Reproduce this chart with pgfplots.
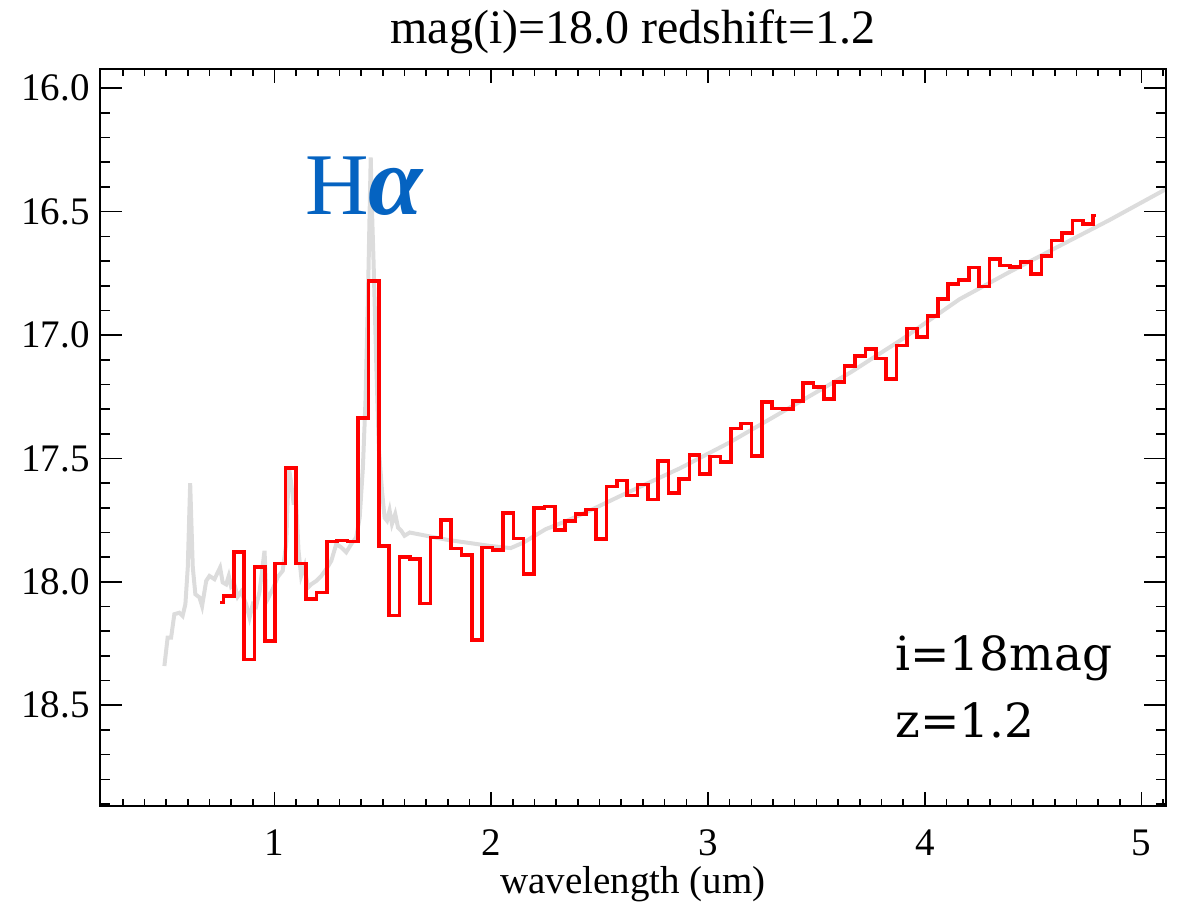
\documentclass[border=0pt]{standalone}
\usepackage{fontspec}
\setmainfont{Liberation Serif}
\newfontfamily\labelfont{DejaVu Serif}
\usepackage{pgfplots}
\pgfplotsset{compat=1.18}
\definecolor{specgray}{RGB}{220,220,220}
\definecolor{habblue}{RGB}{5,99,193}

\pgfplotsset{
  specbox/.style={
    at={(50pt,49pt)}, anchor=south west,
    scale only axis, width=533pt, height=368.5pt,
    xmin=0.195, xmax=5.113, ymin=15.922, ymax=18.908, y dir=reverse,
    tick align=inside,
    axis line style={line width=0.8pt},
    tick style={line width=0.8pt, black},
    minor tick style={line width=0.8pt, black},
    tick label style={font=\fontsize{19.5}{20}\selectfont},
  }
}

\begin{document}
\begin{tikzpicture}
\useasboundingbox (0,0) rectangle (590pt,452pt);

% main axis: data, x ticks (short), title, x label
\begin{axis}[
  specbox,
  xtick={1,2,3,4,5}, xticklabels={1,2,3,4,5},
  minor xtick={0.3,0.4,...,5.1},
  ytick=\empty,
  xtick pos=both, xticklabel pos=lower,
  major tick length=7pt, minor tick length=3.5pt,
  xticklabel style={anchor=base, yshift=-24.5pt},
  xlabel={wavelength (um)},
  xlabel style={at={(axis description cs:0.5,0)}, anchor=base, yshift=-43.5pt,
    font=\fontsize{19.5}{20}\selectfont},
  title={mag(i)=18.0 redshift=1.2},
  title style={at={(axis description cs:0.5,1)}, anchor=base, yshift=7pt,
    font=\fontsize{24}{25}\selectfont},
  clip mode=individual,
]
% model spectrum
\addplot[specgray, line width=2pt, mark=none] coordinates {
(0.492,18.341)(0.507,18.226)(0.523,18.226)(0.538,18.131)(0.561,18.125)
(0.576,18.138)(0.589,18.090)(0.600,17.940)(0.611,17.600)(0.623,17.940)
(0.635,18.050)(0.654,18.063)(0.666,18.098)(0.685,17.996)(0.700,17.976)
(0.723,17.989)(0.738,17.962)(0.749,17.942)(0.761,18.002)(0.777,18.010)
(0.789,17.976)(0.800,18.020)(0.815,18.010)(0.830,18.060)(0.846,18.040)
(0.869,18.090)(0.885,18.145)(0.900,18.090)(0.915,18.100)(0.931,18.040)
(0.954,17.874)(0.964,18.077)(0.980,18.050)(0.995,18.023)(1.015,17.980)
(1.038,17.955)(1.054,17.847)(1.066,17.535)(1.077,17.600)(1.088,17.680)
(1.100,17.680)(1.111,17.874)(1.123,17.976)(1.139,17.935)(1.154,18.023)
(1.169,18.010)(1.193,17.996)(1.216,17.976)(1.239,17.948)(1.262,17.915)
(1.285,17.847)(1.308,17.860)(1.331,17.880)(1.354,17.847)(1.377,17.820)
(1.393,17.740)(1.408,17.535)(1.420,17.264)(1.431,16.858)(1.439,16.500)
(1.444,16.280)(1.450,16.500)(1.457,16.700)(1.470,17.129)(1.482,17.467)
(1.496,17.630)(1.508,17.740)(1.519,17.752)(1.531,17.710)(1.542,17.765)
(1.557,17.725)(1.570,17.780)(1.585,17.793)(1.600,17.813)(1.624,17.800)
(1.80,17.830)(2.00,17.855)(2.09,17.863)(2.15,17.840)(2.25,17.787)
(2.35,17.752)(2.45,17.713)(2.60,17.650)(2.87,17.540)(3.10,17.435)
(3.33,17.318)(3.66,17.150)(3.89,17.020)(4.16,16.855)(4.39,16.745)
(4.63,16.635)(4.85,16.535)(5.11,16.410)
};
% binned spectrum (left bin edge, value)
\addplot[const plot, red, line width=1.8pt, mark=none] coordinates {
(0.749,18.084)
(0.764,18.057)(0.812,17.878)(0.860,18.314)(0.907,17.939)(0.955,18.240)
(1.003,17.925)(1.051,17.539)(1.098,17.925)(1.146,18.070)(1.194,18.043)
(1.242,17.836)(1.289,17.833)(1.337,17.837)(1.385,17.336)(1.433,16.780)
(1.481,17.854)(1.528,18.136)(1.576,17.898)(1.624,17.908)(1.672,18.087)
(1.719,17.820)(1.767,17.749)(1.815,17.864)(1.863,17.890)(1.910,18.236)
(1.958,17.860)(2.006,17.870)(2.054,17.720)(2.102,17.824)(2.149,17.968)
(2.197,17.700)(2.245,17.695)(2.293,17.789)(2.340,17.754)(2.388,17.724)
(2.436,17.706)(2.484,17.826)(2.531,17.613)(2.579,17.589)(2.627,17.650)
(2.675,17.606)(2.723,17.667)(2.770,17.511)(2.818,17.640)(2.866,17.583)
(2.914,17.485)(2.961,17.562)(3.009,17.492)(3.057,17.515)(3.105,17.379)
(3.153,17.359)(3.200,17.491)(3.248,17.271)(3.296,17.298)(3.344,17.300)
(3.391,17.268)(3.439,17.193)(3.487,17.210)(3.535,17.260)(3.582,17.190)
(3.630,17.126)(3.678,17.084)(3.726,17.057)(3.774,17.095)(3.821,17.179)
(3.869,17.043)(3.917,16.973)(3.965,17.009)(4.012,16.923)(4.060,16.855)
(4.108,16.793)(4.156,16.776)(4.203,16.726)(4.251,16.803)(4.299,16.691)
(4.347,16.718)(4.394,16.725)(4.442,16.705)(4.490,16.752)(4.538,16.679)
(4.585,16.617)(4.633,16.587)(4.681,16.535)(4.729,16.549)(4.777,16.515)
(4.792,16.515)
};
\node[anchor=base west, inner sep=0pt, text=habblue,
  font=\fontsize{44}{44}\selectfont] at (axis cs:1.141,16.513)
  {H{\fontsize{49}{49}\selectfont\textbf{\textit{α}}}};
\node[anchor=base west, inner sep=0pt,
  font=\labelfont\fontsize{23.5}{24}\selectfont] at (axis cs:3.863,18.357) {i=18mag};
\node[anchor=base west, inner sep=0pt,
  font=\labelfont\fontsize{23.5}{24}\selectfont] at (axis cs:3.863,18.632) {z=1.2};
\end{axis}

% overlay axis: y ticks (longer)
\begin{axis}[
  specbox,
  xtick=\empty,
  ytick={16,16.5,17,17.5,18,18.5},
  yticklabels={16.0,16.5,17.0,17.5,18.0,18.5},
  minor ytick={16.1,16.2,16.3,16.4,16.6,16.7,16.8,16.9,17.1,17.2,17.3,17.4,
    17.6,17.7,17.8,17.9,18.1,18.2,18.3,18.4,18.6,18.7,18.8,18.9},
  ytick pos=both, yticklabel pos=left,
  major tick length=11pt, minor tick length=5pt,
  yticklabel style={inner xsep=0pt, xshift=-5pt},
]
\end{axis}
\end{tikzpicture}
\end{document}
